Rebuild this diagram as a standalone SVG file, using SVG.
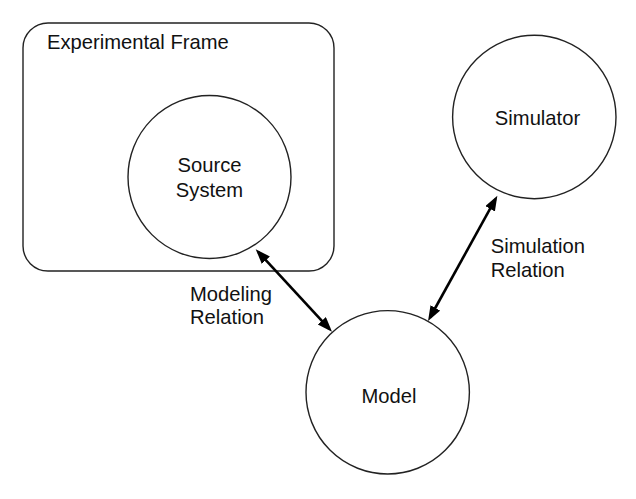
<svg xmlns="http://www.w3.org/2000/svg" width="636" height="499" viewBox="0 0 636 499">
<style>
.shape{fill:none;stroke:#222;stroke-width:1.4}
.lbl{font-family:"Liberation Sans",Arial,sans-serif;font-size:20.2px;fill:#111}
.c{text-anchor:middle}
.conn{stroke:#000;stroke-width:2.6;fill:none}
</style>
<defs>
<marker id="ah" markerUnits="userSpaceOnUse" markerWidth="16" markerHeight="12" refX="11" refY="5.5" orient="auto-start-reverse" viewBox="0 0 16 12">
<path d="M0,0 L15,5.5 L0,11 z" fill="#000"/>
</marker>
</defs>
<rect width="636" height="499" fill="#fff"/>
<g id="experimental-frame">
<rect class="shape" x="23" y="23" width="311" height="248" rx="25" ry="25"/>
<text class="lbl" x="47" y="49">Experimental Frame</text>
</g>
<g id="source-system">
<circle class="shape" cx="209.5" cy="177" r="81.5"/>
<text class="lbl c" x="209.5" y="172">Source</text>
<text class="lbl c" x="209.5" y="197">System</text>
</g>
<g id="simulator">
<circle class="shape" cx="534.3" cy="117" r="81.7"/>
<text class="lbl c" x="537.5" y="125">Simulator</text>
</g>
<g id="model">
<circle class="shape" cx="387.7" cy="392.3" r="81.7"/>
<text class="lbl c" x="389" y="402.5">Model</text>
</g>
<g id="connectors">
<line class="conn" x1="258.4" y1="252.1" x2="329.3" y2="328.9" marker-start="url(#ah)" marker-end="url(#ah)"/>
<line class="conn" x1="495.4" y1="199.2" x2="430.0" y2="317.5" marker-start="url(#ah)" marker-end="url(#ah)"/>
</g>
<g id="labels">
<text class="lbl" x="190" y="300.5">Modeling</text>
<text class="lbl" x="190" y="324">Relation</text>
<text class="lbl" x="490.7" y="253">Simulation</text>
<text class="lbl" x="490.7" y="277.3">Relation</text>
</g>
</svg>
